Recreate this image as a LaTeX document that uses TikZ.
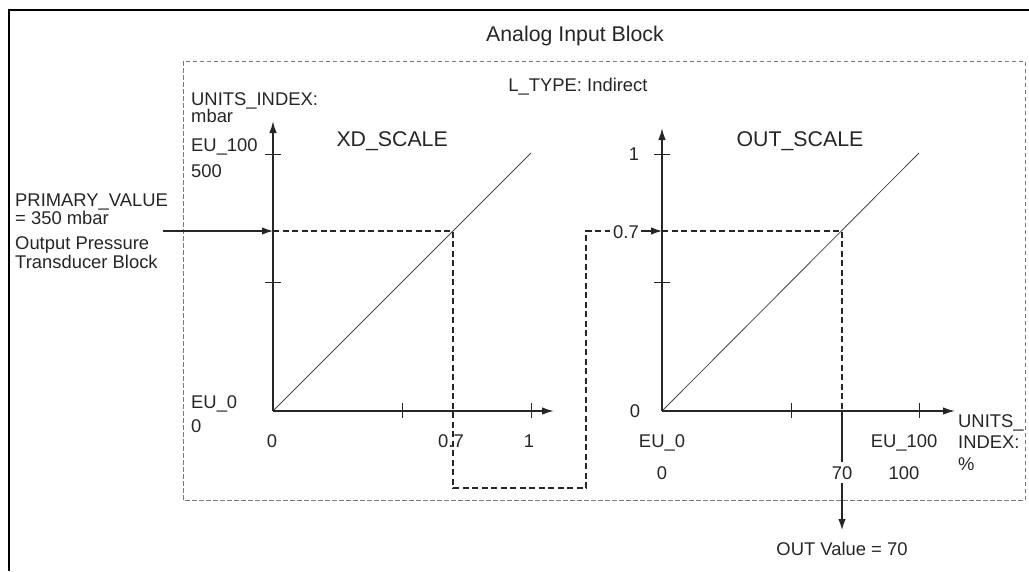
\documentclass[tikz,border=0pt]{standalone}
\usepackage{fontspec}
\setmainfont{Liberation Sans}
\usetikzlibrary{arrows.meta}
\definecolor{ink}{HTML}{262626}
\definecolor{boxgray}{HTML}{7A7A7A}
\begin{document}
\begin{tikzpicture}[x=1pt,y=-1pt,
  txt/.style={inner sep=0pt, text=ink, font=\fontsize{18.4}{22}\selectfont},
  bigtxt/.style={inner sep=0pt, text=ink, font=\fontsize{21.3}{25}\selectfont},
  axisline/.style={draw=ink, line width=1.5pt},
  axisarrow/.style={axisline, -{Latex[length=12pt,width=7.5pt]}},
  tickline/.style={draw=ink, line width=0.9pt},
  diagline/.style={draw=ink!85, line width=0.8pt},
  flowline/.style={draw=ink, line width=1.1pt, dash pattern=on 6pt off 3.5pt},
  outlinebox/.style={draw=boxgray, line width=1pt, dash pattern=on 4.5pt off 2.5pt},
  framebox/.style={draw=black, line width=1.3pt},
  arrline/.style={draw=ink, line width=1.2pt, -{Latex[length=11pt,width=7.5pt]}}]

\useasboundingbox (0,0) rectangle (1029,571);
\draw[framebox] (1029,10) -- (9,10) -- (9,571);
\draw[outlinebox] (183,61) rectangle (1025,500);

% titles
\node[bigtxt, anchor=base] (title) at (575,41.5) {Analog Input Block};
\node[txt, anchor=base] (ltype) at (578,91) {L\_TYPE: Indirect};
\node[bigtxt, anchor=base east] (xdscale) at (448,146) {XD\_SCALE};
\node[bigtxt, anchor=base] (outscale) at (800,146.5) {OUT\_SCALE};

% left chart
\coordinate (o1) at (273,411);
\coordinate (y1) at (273,121);
\coordinate (x1) at (554,411);
\coordinate (d1) at (531,153);
\draw[diagline] (o1) -- (d1);
\draw[tickline] (265,154) -- (281,154);
\draw[tickline] (265,282) -- (281,282);
\draw[tickline] (402,403) -- (402,418);
\draw[tickline] (531,403) -- (531,418);
\draw[axisarrow] (o1) -- (y1);
\draw[axisarrow] (o1) -- (x1);

\node[txt, anchor=base west] (ui1) at (191,105) {UNITS\_INDEX:};
\node[txt, anchor=base west] (mbar) at (191,122) {mbar};
\node[txt, anchor=base west] (eu100a) at (191,151) {EU\_100};
\node[txt, anchor=base west] (v500) at (191,177) {500};
\node[txt, anchor=base west] (eu0a) at (191,408) {EU\_0};
\node[txt, anchor=base west] (v0a) at (191,432) {0};
\node[txt, anchor=base] (x0a) at (272,447) {0};
\node[txt, anchor=base] (x07a) at (451,447) {0.7};
\node[txt, anchor=base] (x1a) at (529,447) {1};

\node[txt, anchor=base west] (pv1) at (15,206) {PRIMARY\_VALUE};
\node[txt, anchor=base west] (pv2) at (15,224) {= 350 mbar};
\node[txt, anchor=base west] (pv3) at (15,249) {Output Pressure};
\node[txt, anchor=base west] (pv4) at (15,268) {Transducer Block};

% right chart
\coordinate (o2) at (662,411);
\coordinate (y2) at (662,128);
\coordinate (x2) at (955,411);
\coordinate (d2) at (919,153);
\draw[diagline] (o2) -- (d2);
\draw[tickline] (654,154) -- (670,154);
\draw[tickline] (654,282) -- (670,282);
\draw[tickline] (791,403) -- (791,418);
\draw[tickline] (919,403) -- (919,418);
\draw[axisarrow] (o2) -- (y2);
\draw[axisarrow] (o2) -- (x2);

\node[txt, anchor=base] (y1b) at (634,160) {1};
\node[txt, anchor=base] (y0b) at (635,417) {0};
\node[txt, anchor=base] (eu0b) at (662,447) {EU\_0};
\node[txt, anchor=base] (x0b) at (662,479) {0};
\node[txt, anchor=base] (eu100b) at (904,447) {EU\_100};
\node[txt, anchor=base] (x100b) at (904,479) {100};
\node[txt, anchor=base west] (ui2a) at (958,427) {UNITS\_};
\node[txt, anchor=base west] (ui2b) at (958,448) {INDEX:};
\node[txt, anchor=base west] (ui2c) at (958,470) {\%};

% flow
\coordinate (p0) at (163,231);
\coordinate (p1) at (273,231);
\coordinate (q1) at (453,231);
\coordinate (q2) at (453,488);
\coordinate (q3) at (586,488);
\coordinate (q4) at (586,231);
\coordinate (r1) at (662,231);
\coordinate (s1) at (842,231);
\coordinate (s2) at (842,411);
\coordinate (s3) at (842,530);
\node[txt, anchor=base] (v07) at (626,238) {0.7};
\draw[arrline] (p0) -- (p1);
\draw[flowline] (p1) -- (q1) -- (q2) -- (q3) -- (q4) -- ([xshift=-3pt]q4 -| v07.west);
\draw[arrline, shorten <=2pt] (v07.east |- r1) -- (r1);
\draw[flowline] (r1) -- (s1) -- (s2);
\draw[arrline] (s2) -- (s3);
\node[txt, anchor=base, fill=white, inner ysep=4pt] (x70) at (842,479) {70};
\node[txt, anchor=base] (outv) at (842,555) {OUT Value = 70};
\end{tikzpicture}
\end{document}
